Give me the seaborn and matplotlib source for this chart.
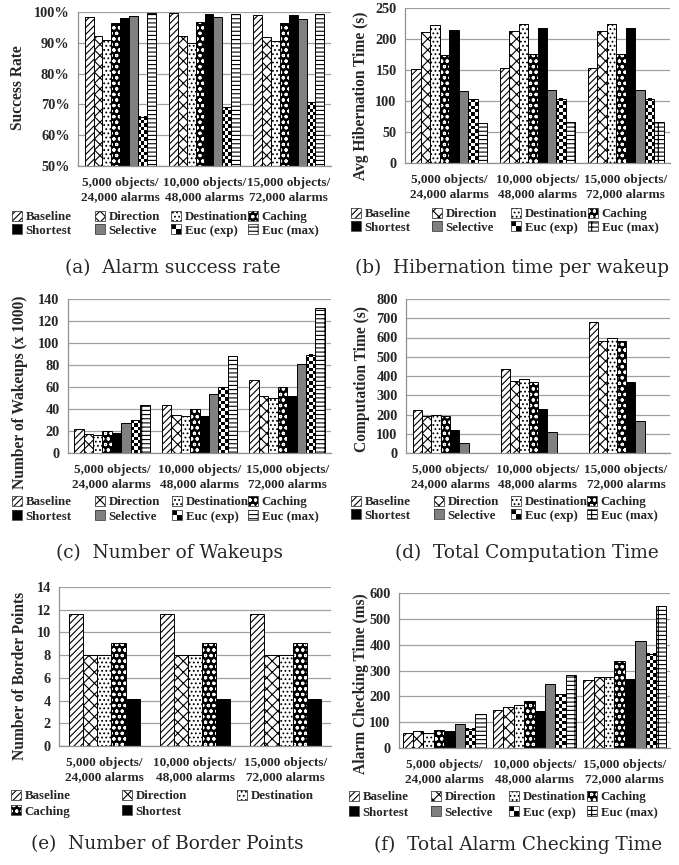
import numpy as np
import pandas as pd
import matplotlib
matplotlib.use("Agg")
import matplotlib.pyplot as plt
import matplotlib.patches as mpatches
from matplotlib.legend_handler import HandlerTuple, HandlerBase
import seaborn as sns

# ---------------- data ----------------
groups = ["5,000 objects/\n24,000 alarms", "10,000 objects/\n48,000 alarms", "15,000 objects/\n72,000 alarms"]
methods = ["Baseline", "Direction", "Destination", "Caching", "Shortest", "Selective", "Euc (exp)", "Euc (max)"]
methods_e = ["Baseline", "Direction", "Destination", "Caching", "Shortest"]

success_rate = [
    [98.5, 92.3, 91.0, 96.5, 98.2, 98.7, 66.0, 99.8],
    [99.8, 92.3, 89.8, 96.8, 99.4, 98.3, 69.0, 99.2],
    [98.9, 92.0, 90.5, 96.5, 98.9, 97.7, 70.7, 99.4],
]
hibernation = [
    [152, 211, 222, 174, 214, 116, 103, 65],
    [154, 213, 224, 176, 217, 118, 104, 66],
    [154, 213, 224, 176, 217, 118, 104, 66],
]
wakeups = [
    [22, 17.5, 16.5, 20, 18, 27, 30, 44],
    [44, 35, 33.5, 40, 34, 53.5, 60, 88],
    [66, 52, 50, 60, 51.5, 81, 89.5, 132],
]
computation = [
    [222, 190, 195, 192, 118, 52, 1, 1],
    [437, 373, 383, 371, 228, 107, 1, 1],
    [680, 583, 600, 583, 370, 168, 1, 1],
]
border_points = [
    [11.6, 8.05, 8.0, 9.1, 4.1],
    [11.6, 8.0, 8.0, 9.1, 4.1],
    [11.65, 8.0, 8.0, 9.1, 4.1],
]
alarm_checking = [
    [57, 64, 60, 68, 65, 93, 74, 130],
    [147, 160, 168, 182, 143, 247, 208, 283],
    [264, 274, 274, 335, 267, 416, 365, 551],
]
captions = ["(a)  Alarm success rate", "(b)  Hibernation time per wakeup", "(c)  Number of Wakeups",
            "(d)  Total Computation Time", "(e)  Number of Border Points", "(f)  Total Alarm Checking Time"]
ylabels = ["Success Rate", "Avg Hibernation Time (s)", "Number of Wakeups (x 1000)",
           "Computation Time (s)", "Number of Border Points", "Alarm Checking Time (ms)"]

# ---------------- styles ----------------
# (face colour, hatch colour, hatch); "checker" is drawn as a checkerboard
STYLE = {
    "Baseline": ("white", "black", "/////"),
    "Direction": ("white", "black", "xxx"),
    "Destination": ("white", "black", "...."),
    "Caching": ("black", "white", "ooo"),
    "Shortest": ("black", "black", ""),
    "Selective": ("#808080", "#808080", ""),
    "Euc (exp)": ("white", "black", "checker"),
    "Euc (max)": ("white", "black", "----|"),
}

plt.rcParams["hatch.linewidth"] = 0.8
sns.set_style("white")
plt.rcParams["font.family"] = ["Liberation Serif", "DejaVu Serif"]

W, H = 679, 865
fig = plt.figure(figsize=(W / 100, H / 100), dpi=100)


def rect(l, t, r, b):
    return [l / W, 1 - b / H, (r - l) / W, (b - t) / H]


def make_df(values, names):
    rows = []
    for g, vals in zip(groups, values):
        for m, v in zip(names, vals):
            rows.append({"group": g, "method": m, "value": v})
    return pd.DataFrame(rows)


class CheckerHandler(HandlerBase):
    def create_artists(self, legend, orig_handle, xdescent, ydescent, width, height, fontsize, trans):
        arts = []
        for a in range(2):
            for c in range(2):
                col = "black" if (a + c) % 2 == 1 else "white"
                arts.append(mpatches.Rectangle((-xdescent + a * width / 2, -ydescent + c * height / 2),
                                               width / 2, height / 2, facecolor=col, edgecolor="none",
                                               transform=trans))
        arts.append(mpatches.Rectangle((-xdescent, -ydescent), width, height, fill=False,
                                       edgecolor="#404040", lw=0.6, transform=trans))
        return arts


def legend_handle(m):
    fc, hc, hatch = STYLE[m]
    if hatch == "checker":
        return mpatches.Patch(facecolor="white")
    fill = mpatches.Patch(facecolor=fc, edgecolor=hc, hatch=hatch, lw=0)
    outline = mpatches.Patch(facecolor="none", edgecolor="#404040", lw=0.6)
    return (fill, outline)


panels = [
    dict(data=success_rate, names=methods, box=(78, 12, 331, 166), ylim=(50, 100), step=10, pct=True,
         width=0.84, cols=(17, 100, 176, 253), rows=(218, 233), cap=(173, 268), lab=(18, 88)),
    dict(data=hibernation, names=methods, box=(405, 8, 670, 163), ylim=(0, 250), step=50, pct=False,
         width=0.86, cols=(356, 437, 516, 593), rows=(215, 230), cap=(512, 268), lab=(361, 96)),
    dict(data=wakeups, names=methods, box=(68, 299, 331, 453), ylim=(0, 140), step=20, pct=False,
         width=0.86, cols=(17, 100, 177, 253), rows=(503, 519), cap=(170, 553), lab=(20, 392)),
    dict(data=computation, names=methods, box=(406, 299, 670, 453), ylim=(0, 800), step=100, pct=False,
         width=0.85, cols=(356, 439, 516, 592), rows=(503, 518), cap=(527, 553), lab=(362, 379)),
    dict(data=border_points, names=methods_e, box=(59, 587, 331, 746), ylim=(0, 14), step=2, pct=False,
         width=0.78, cols=(16, 127, 242), rows=(797, 814), cap=(167, 844), lab=(20, 676)),
    dict(data=alarm_checking, names=methods, box=(399, 593, 670, 748), ylim=(0, 600), step=100, pct=False,
         width=0.92, cols=(354, 436, 514, 592), rows=(798, 815), cap=(518, 845), lab=(361, 684)),
]

CELL = 3.4  # checker cell size in pixels
LEG_FS = 9.3

for i, p in enumerate(panels):
    l, t, r, b = p["box"]
    ax = fig.add_axes(rect(l, t, r, b))
    df = make_df(p["data"], p["names"])
    sns.barplot(data=df, x="group", y="value", hue="method", hue_order=p["names"], order=groups,
                width=p["width"], gap=0, ax=ax, legend=False, saturation=1, errorbar=None)
    lo, hi = p["ylim"]
    px_x = (r - l) / 3.0
    px_y = (b - t) / (hi - lo)
    for cont, m in zip(ax.containers, p["names"]):
        fc, hc, hatch = STYLE[m]
        for bar in cont:
            bar.set_facecolor(fc)
            bar.set_edgecolor(hc)
            bar.set_linewidth(0)
            x0, y0 = bar.get_xy()
            w, h = bar.get_width(), bar.get_height()
            if hatch == "checker":
                yb = max(y0, lo)
                ht = y0 + h - yb
                nx = max(1, int(round(w * px_x / CELL)))
                ny = int(round(ht * px_y / CELL))
                if ny >= 1:
                    board = np.indices((ny, nx)).sum(axis=0) % 2
                    ax.imshow(board, extent=(x0, x0 + w, yb, yb + ht), origin="lower", cmap="gray_r",
                              vmin=0, vmax=1, interpolation="nearest", aspect="auto",
                              zorder=bar.get_zorder() + 0.05)
            else:
                bar.set_hatch(hatch)
            ax.add_patch(mpatches.Rectangle((x0, y0), w, h, fill=False, edgecolor="black", lw=0.7,
                                            zorder=bar.get_zorder() + 0.1))
    ax.set_ylim(lo, hi)
    ax.set_xlim(-0.5, 2.5)
    ax.set_aspect("auto")
    ticks = np.arange(lo, hi + 0.001, p["step"])
    ax.set_yticks(ticks)
    if p["pct"]:
        ax.set_yticklabels([f"{t_:.0f}%" for t_ in ticks])
    else:
        ax.set_yticklabels([f"{t_:.0f}" for t_ in ticks])
    ax.yaxis.grid(True, color="#a0a0a0", lw=0.9)
    ax.set_axisbelow(True)
    for s in ["top", "right"]:
        ax.spines[s].set_visible(False)
    for s in ["left", "bottom"]:
        ax.spines[s].set_color("#909090")
        ax.spines[s].set_linewidth(0.9)
    ax.tick_params(axis="y", which="major", length=4, color="#909090", width=0.9, pad=2,
                   labelsize=10.3)
    ax.tick_params(axis="x", which="major", length=0, pad=8, labelsize=9.5)
    ax.set_xticks([-0.5, 0.5, 1.5, 2.5], minor=True)
    ax.tick_params(axis="x", which="minor", length=5, color="#909090", width=0.9)
    for lab in ax.get_xticklabels() + ax.get_yticklabels():
        lab.set_fontweight("bold")
    for lab in ax.get_xticklabels():
        lab.set_linespacing(1.2)
    ax.set_xlabel("")
    ax.set_ylabel(ylabels[i], fontsize=11.2, fontweight="bold")
    ax.yaxis.label.set_va("center")
    lx_, ly_ = p["lab"]
    ax.yaxis.set_label_coords((lx_ - l) / (r - l), (b - ly_) / (b - t))

    # legend: one single-column legend per column so the column positions match
    names = p["names"]
    ncol = len(p["cols"])
    r1, r2 = p["rows"]
    for c, cxp in enumerate(p["cols"]):
        col_names = names[c::ncol]
        handles = [legend_handle(m) for m in col_names]
        hmap = {tuple: HandlerTuple(ndivide=1)}
        for hd in handles:
            if not isinstance(hd, tuple):
                hmap[hd] = CheckerHandler()
        fig.legend(handles=handles, labels=col_names, ncol=1, loc="upper left",
                   bbox_to_anchor=((cxp - 5) / W, 1 - (r1 - 7) / H),
                   handler_map=hmap,
                   frameon=False, handlelength=0.8, handleheight=0.8, handletextpad=0.25,
                   labelspacing=(r2 - r1 - 14.0) / (LEG_FS * 100 / 72), borderaxespad=0, borderpad=0,
                   prop={"family": "Liberation Serif", "weight": "bold", "size": LEG_FS})
    cx, cy = p["cap"]
    fig.text(cx / W, 1 - cy / H, captions[i], ha="center", va="center", fontsize=13.3,
             family=["DejaVu Serif"])

fig.savefig("out.png", dpi=100, facecolor="white")
